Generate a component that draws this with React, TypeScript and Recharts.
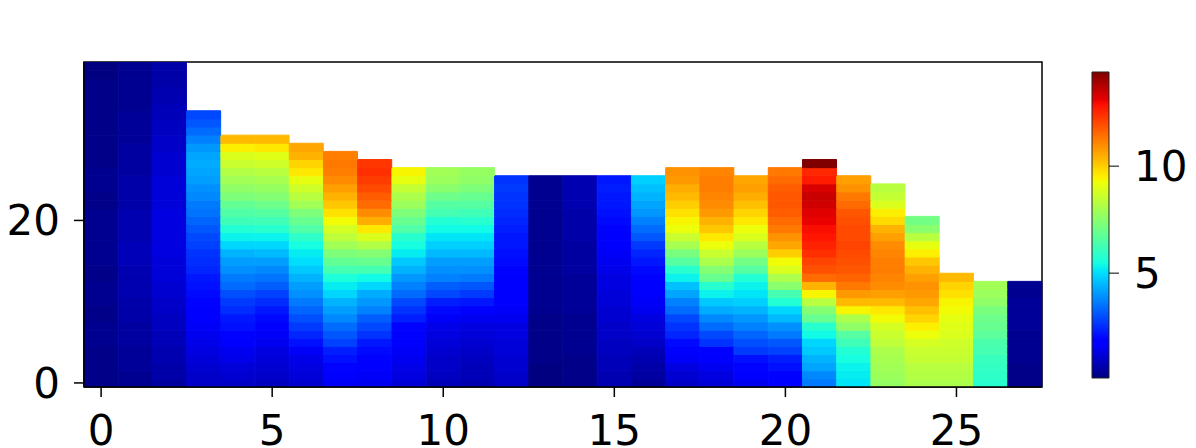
import React from "react";
import { BarChart, Bar, Cell, XAxis, YAxis, ReferenceArea } from "recharts";

// cell values per column, bottom row first
const c00 = [0.2, 0.2, 0.2, 0.2, 0.2, 0.3, 0.3, 0.3, 0.2, 0.2, 0.3, 0.3, 0.3, 0.2, 0.2, 0.3, 0.3, 0.3, 0.3, 0.3, 0.3, 0.3, 0.2, 0.2, 0.3, 0.3, 0.3, 0.2, 0.2, 0.2, 0.2, 0.2, 0.2, 0.2, 0.2, 0.2, 0.2, 0.2, 0.1, 0.1];
const c01 = [0.3, 0.3, 0.4, 0.4, 0.4, 0.5, 0.5, 0.5, 0.6, 0.6, 0.6, 0.7, 0.7, 0.7, 0.7, 0.8, 0.8, 0.8, 0.7, 0.7, 0.7, 0.7, 0.6, 0.6, 0.6, 0.6, 0.5, 0.5, 0.5, 0.5, 0.4, 0.4, 0.4, 0.4, 0.3, 0.3, 0.3, 0.3, 0.3, 0.3];
const c02 = [0.5, 0.6, 0.6, 0.7, 0.7, 0.8, 0.8, 0.9, 0.9, 1.0, 1.0, 1.1, 1.1, 1.2, 1.2, 1.2, 1.3, 1.3, 1.3, 1.3, 1.3, 1.3, 1.2, 1.2, 1.2, 1.2, 1.1, 1.1, 1.1, 1.0, 1.0, 0.9, 0.9, 0.8, 0.8, 0.7, 0.7, 0.6, 0.6, 0.6];
const c03 = [1.0, 1.0, 1.1, 1.2, 1.3, 1.4, 1.5, 1.6, 1.7, 1.8, 1.9, 2.0, 2.1, 2.2, 2.4, 2.5, 2.6, 2.8, 2.9, 3.1, 3.3, 3.5, 3.6, 3.8, 3.9, 4.1, 4.2, 4.3, 4.2, 4.0, 3.7, 3.4, 3.1, 2.9];
const c04 = [1.0, 1.1, 1.2, 1.4, 1.5, 1.8, 1.9, 2.1, 2.2, 2.5, 2.7, 3.0, 3.4, 3.6, 3.9, 4.1, 4.4, 4.9, 5.3, 5.7, 6.2, 6.5, 6.8, 7.3, 7.6, 7.9, 8.2, 8.6, 8.9, 9.5, 10.3];
const c05 = [0.9, 1.0, 1.1, 1.2, 1.3, 1.5, 1.6, 1.8, 2.0, 2.2, 2.5, 2.8, 3.2, 3.5, 3.8, 4.1, 4.5, 4.9, 5.3, 5.8, 6.2, 6.6, 7.0, 7.4, 7.7, 8.0, 8.3, 8.7, 9.0, 9.6, 10.3];
const c06 = [1.1, 1.2, 1.3, 1.4, 1.6, 2.1, 2.4, 2.7, 3.0, 3.3, 3.6, 3.9, 4.1, 4.4, 4.7, 5.0, 5.2, 5.5, 5.9, 6.5, 6.9, 7.3, 7.9, 8.3, 8.7, 9.1, 9.6, 9.9, 10.4, 10.6];
const c07 = [1.6, 1.8, 1.9, 2.1, 2.3, 2.8, 3.1, 3.4, 3.8, 4.1, 4.4, 4.9, 5.2, 5.6, 6.3, 6.8, 7.3, 7.9, 8.4, 8.8, 9.3, 9.7, 10.1, 10.4, 10.7, 11.0, 11.2, 11.3, 11.2];
const c08 = [1.5, 1.6, 1.7, 1.9, 2.0, 2.2, 2.6, 2.9, 3.2, 3.7, 4.0, 4.3, 4.9, 5.4, 6.3, 6.9, 7.4, 8.2, 8.9, 9.6, 10.5, 11.0, 11.5, 11.7, 12.0, 12.2, 12.4, 12.3];
const c09 = [1.2, 1.3, 1.4, 1.5, 1.6, 1.7, 1.8, 1.9, 2.3, 2.6, 2.9, 3.4, 3.7, 4.0, 4.4, 4.7, 5.2, 5.5, 5.8, 6.5, 6.9, 7.3, 7.8, 8.1, 8.5, 9.1, 9.4];
const c10 = [0.8, 0.9, 1.0, 1.0, 1.1, 1.2, 1.3, 1.4, 1.6, 2.0, 2.3, 2.9, 3.2, 3.7, 3.9, 4.1, 4.5, 4.8, 5.1, 5.4, 5.7, 6.3, 6.6, 7.0, 7.5, 7.8, 7.9];
const c11 = [0.7, 0.8, 0.8, 0.9, 1.0, 1.1, 1.2, 1.3, 1.5, 1.8, 2.2, 2.7, 3.1, 3.6, 3.9, 4.1, 4.5, 4.8, 5.1, 5.4, 5.8, 6.2, 6.6, 6.9, 7.3, 7.6, 7.7];
const c12 = [1.0, 1.0, 1.1, 1.1, 1.2, 1.2, 1.3, 1.3, 1.5, 1.6, 1.7, 1.7, 1.8, 1.8, 1.9, 2.0, 2.1, 2.2, 2.2, 2.3, 2.4, 2.5, 2.6, 2.6, 2.7, 2.6];
const c13 = [0.1, 0.1, 0.1, 0.2, 0.2, 0.2, 0.2, 0.2, 0.2, 0.3, 0.3, 0.3, 0.3, 0.3, 0.3, 0.3, 0.3, 0.3, 0.3, 0.3, 0.3, 0.3, 0.3, 0.3, 0.3, 0.3];
const c14 = [0.2, 0.2, 0.2, 0.2, 0.3, 0.3, 0.3, 0.3, 0.3, 0.4, 0.4, 0.4, 0.4, 0.4, 0.5, 0.5, 0.5, 0.5, 0.6, 0.6, 0.6, 0.6, 0.7, 0.7, 0.7, 0.7];
const c15 = [0.7, 0.7, 0.8, 0.8, 0.9, 0.9, 1.0, 1.0, 1.1, 1.1, 1.2, 1.2, 1.3, 1.3, 1.4, 1.5, 1.6, 1.7, 1.8, 1.9, 2.0, 2.1, 2.2, 2.2, 2.3, 2.2];
const c16 = [0.4, 0.5, 0.6, 0.7, 0.8, 1.0, 1.1, 1.2, 1.3, 1.5, 1.6, 1.7, 1.8, 1.9, 2.0, 2.2, 2.4, 2.7, 3.1, 3.4, 3.7, 4.0, 4.2, 4.4, 4.6, 4.8];
const c17 = [1.0, 1.1, 1.3, 1.6, 1.8, 2.0, 2.4, 2.6, 2.9, 3.4, 3.7, 4.2, 4.6, 5.3, 5.8, 6.6, 7.2, 8.0, 8.6, 9.2, 9.4, 9.7, 10.0, 10.3, 10.5, 10.8, 10.9];
const c18 = [1.2, 1.3, 1.5, 1.7, 1.9, 2.6, 2.9, 3.4, 3.8, 4.3, 4.7, 5.3, 5.8, 6.9, 7.4, 8.1, 8.6, 9.2, 9.6, 10.1, 10.4, 10.8, 11.0, 11.1, 11.2, 11.2, 11.1];
const c19 = [1.5, 1.7, 1.9, 2.1, 2.7, 3.0, 3.3, 3.7, 4.0, 4.4, 4.8, 5.1, 5.3, 5.7, 6.6, 7.1, 7.8, 8.3, 8.9, 9.2, 9.6, 9.9, 10.2, 10.5, 10.7, 10.6];
const c20 = [1.8, 1.9, 2.1, 2.3, 2.8, 3.1, 3.6, 3.9, 4.5, 4.9, 5.7, 6.3, 7.5, 8.1, 8.9, 9.3, 10.0, 10.6, 10.9, 11.3, 11.5, 11.7, 11.8, 11.8, 11.7, 11.5, 11.3];
const c21 = [3.6, 3.8, 4.2, 4.4, 4.7, 4.9, 5.4, 5.8, 6.9, 7.4, 8.3, 9.4, 10.4, 11.5, 11.9, 12.1, 12.4, 12.6, 12.8, 12.9, 13.1, 13.2, 13.4, 13.5, 13.3, 12.7, 12.5, 14.4];
const c22 = [5.1, 5.2, 5.3, 5.5, 5.7, 6.2, 6.6, 7.6, 8.1, 9.4, 10.3, 10.8, 11.3, 11.6, 11.8, 11.9, 12.0, 12.1, 12.0, 12.0, 11.9, 11.8, 11.5, 11.3, 10.9, 10.7];
const c23 = [7.7, 7.8, 7.9, 8.0, 8.1, 8.4, 8.6, 8.8, 9.3, 9.6, 10.3, 10.7, 11.0, 11.1, 11.2, 11.2, 11.1, 11.0, 10.7, 10.4, 9.8, 9.5, 8.9, 8.5, 8.3];
const c24 = [8.1, 8.2, 8.3, 8.5, 8.6, 8.8, 9.2, 9.5, 9.9, 10.2, 10.6, 10.8, 10.9, 10.7, 10.4, 10.1, 9.5, 9.1, 8.3, 7.5, 7.1];
const c25 = [8.1, 8.2, 8.3, 8.5, 8.6, 8.7, 8.9, 9.0, 9.1, 9.3, 9.4, 9.7, 9.9, 10.3];
const c26 = [5.8, 5.9, 6.0, 6.1, 6.3, 6.4, 6.7, 6.9, 7.0, 7.2, 7.6, 7.8, 7.9];
const c27 = [0.2, 0.2, 0.2, 0.3, 0.3, 0.3, 0.3, 0.4, 0.4, 0.4, 0.4, 0.3, 0.3];

const columns = [c00, c01, c02, c03, c04, c05, c06, c07, c08, c09, c10, c11, c12, c13,
  c14, c15, c16, c17, c18, c19, c20, c21, c22, c23, c24, c25, c26, c27];

const yTicks = [0, 20];
const cbTicks = [5, 10];
const ROWS = 40;

const allValues = columns.flat();
const vmin = Math.min(...allValues);
const vmax = Math.max(...allValues);

// matplotlib "jet" segment data
const JET: Record<"r" | "g" | "b", [number, number][]> = {
  r: [[0, 0], [0.35, 0], [0.66, 1], [0.89, 1], [1, 0.5]],
  g: [[0, 0], [0.125, 0], [0.375, 1], [0.64, 1], [0.91, 0], [1, 0]],
  b: [[0, 0.5], [0.11, 1], [0.34, 1], [0.65, 0], [1, 0]],
};

function channel(pts: [number, number][], t: number) {
  for (let i = 1; i < pts.length; i++) {
    const [x0, y0] = pts[i - 1];
    const [x1, y1] = pts[i];
    if (t <= x1) return y0 + ((t - x0) / (x1 - x0)) * (y1 - y0);
  }
  return pts[pts.length - 1][1];
}

function jetAt(t: number) {
  const c = Math.max(0, Math.min(1, t));
  const to = (x: number) => Math.round(x * 255);
  return `rgb(${to(channel(JET.r, c))},${to(channel(JET.g, c))},${to(channel(JET.b, c))})`;
}

const colorOf = (v: number) => jetAt((v - vmin) / (vmax - vmin));

const gradientStops = [0, 0.11, 0.125, 0.34, 0.35, 0.375, 0.5, 0.64, 0.65, 0.66, 0.78, 0.89, 0.91, 1];

const data = columns.map((col, i) => {
  const row: Record<string, number> = { col: i, base: -0.5 };
  col.forEach((_, k) => {
    row[`r${k}`] = 1;
  });
  return row;
});

const tickStyle = { fontSize: 42, fontFamily: "DejaVu Sans", fill: "#000" };

export default function App() {
  return (
    <div style={{ position: "fixed", left: 0, top: 0, width: 1196, height: 448, background: "#fff" }}>
      <div style={{ position: "absolute", left: 0, top: 0 }}>
        <BarChart
          width={1196}
          height={448}
          data={data}
          margin={{ top: 62, right: 154, bottom: 0, left: 0 }}
          barCategoryGap={0}
          barGap={0}
        >
          <XAxis
            dataKey="col"
            type="category"
            interval={4}
            height={61}
            tickSize={10}
            tickMargin={18}
            tick={tickStyle}
            stroke="#000"
            strokeWidth={1.5}
          />
          <YAxis
            type="number"
            domain={[-0.5, ROWS - 0.5]}
            allowDataOverflow
            ticks={yTicks}
            width={84}
            tickSize={10}
            tickMargin={14}
            tick={tickStyle}
            stroke="#000"
            strokeWidth={1.5}
          />
          <Bar dataKey="base" stackId="cells" fill="none" isAnimationActive={false} />
          {Array.from({ length: ROWS }, (_, k) => (
            <Bar key={k} dataKey={`r${k}`} stackId="cells" isAnimationActive={false}>
              {columns.map((col, i) => {
                const v = col[k];
                const fill = v == null ? "none" : colorOf(v);
                return <Cell key={i} fill={fill} stroke={fill} strokeWidth={1} />;
              })}
            </Bar>
          ))}
          <ReferenceArea
            x1={0}
            x2={columns.length - 1}
            y1={-0.5}
            y2={ROWS - 0.5}
            fill="none"
            stroke="#000"
            strokeWidth={1.5}
            ifOverflow="visible"
          />
        </BarChart>
      </div>
      <div style={{ position: "absolute", left: 1060, top: 0 }}>
        <BarChart
          width={136}
          height={448}
          data={[{ name: "cb", range: [vmin, vmax] }]}
          margin={{ top: 72, right: 0, bottom: 70, left: 32 }}
          barCategoryGap={0}
        >
          <defs>
            <linearGradient id="jetBar" x1="0" y1="1" x2="0" y2="0">
              {gradientStops.map((t) => (
                <stop key={t} offset={`${t * 100}%`} stopColor={jetAt(t)} />
              ))}
            </linearGradient>
          </defs>
          <XAxis dataKey="name" hide />
          <YAxis
            orientation="right"
            type="number"
            domain={[vmin, vmax]}
            ticks={cbTicks}
            width={87}
            axisLine={false}
            tickSize={10}
            tickMargin={15}
            tick={tickStyle}
            stroke="#000"
          />
          <Bar dataKey="range" fill="url(#jetBar)" stroke="#222" strokeWidth={1} isAnimationActive={false} />
        </BarChart>
      </div>
    </div>
  );
}
